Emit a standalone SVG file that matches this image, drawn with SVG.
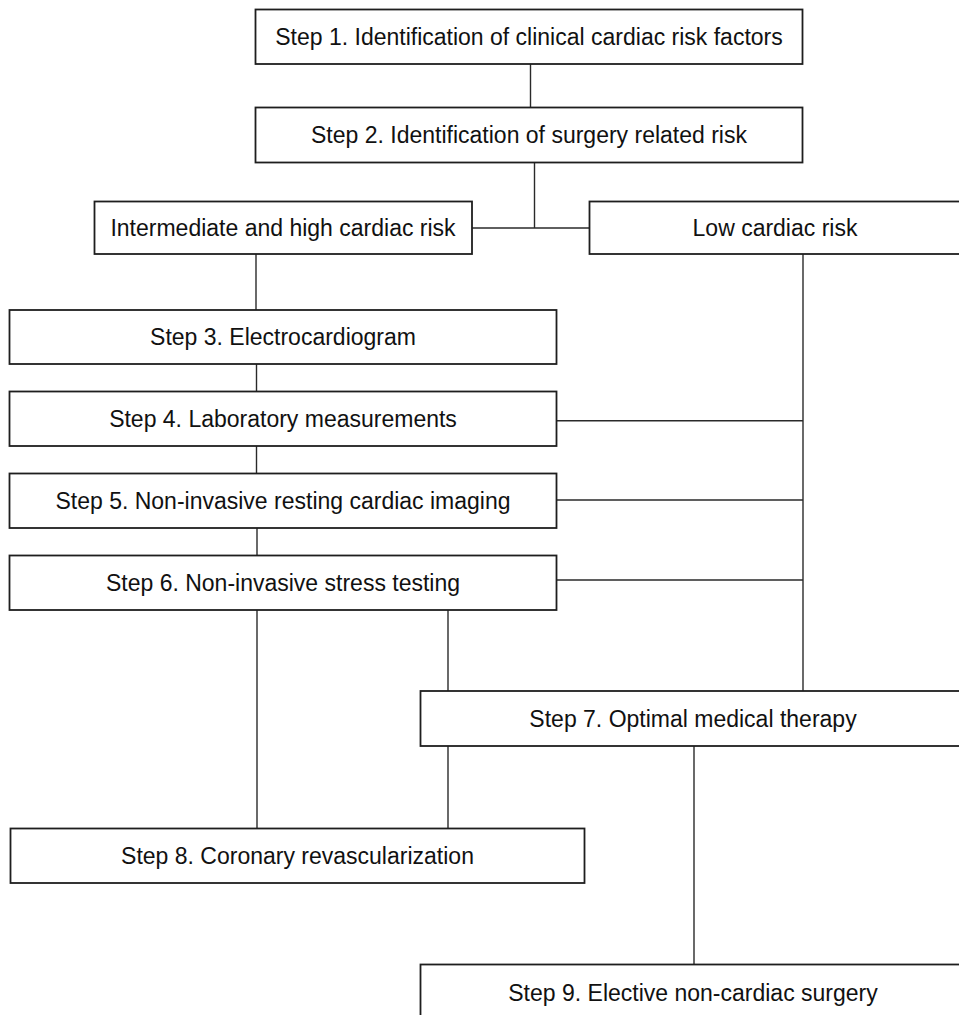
<svg xmlns="http://www.w3.org/2000/svg" width="959" height="1015" viewBox="0 0 959 1015">
<style>
.box{fill:#fff;stroke:#1e1e1e;stroke-width:1.8}
.lbl{font-family:"Liberation Sans",Arial,sans-serif;font-size:23px;fill:#111;text-anchor:middle}
.con line{stroke:#2a2a2a;stroke-width:1.4}
</style>
<rect width="959" height="1015" fill="#fff"/>
<g class="con" id="connectors">
<line x1="530.5" y1="64" x2="530.5" y2="107.5"/>
<line x1="534.5" y1="162.5" x2="534.5" y2="228"/>
<line x1="472" y1="228" x2="589.5" y2="228"/>
<line x1="256" y1="254" x2="256" y2="310"/>
<line x1="256.5" y1="364" x2="256.5" y2="391.5"/>
<line x1="256.5" y1="446" x2="256.5" y2="473.5"/>
<line x1="257" y1="528" x2="257" y2="555.5"/>
<line x1="803" y1="254" x2="803" y2="691"/>
<line x1="556.5" y1="420.7" x2="803" y2="420.7"/>
<line x1="556.5" y1="500" x2="803" y2="500"/>
<line x1="556.5" y1="580" x2="803" y2="580"/>
<line x1="257" y1="610" x2="257" y2="828.5"/>
<line x1="448" y1="610" x2="448" y2="691"/>
<line x1="448" y1="746" x2="448" y2="828.5"/>
<line x1="694" y1="746" x2="694" y2="964.5"/>
</g>
<g id="step1"><rect class="box" x="255.5" y="9.5" width="547" height="54.5"/><text class="lbl" x="529" y="45">Step 1. Identification of clinical cardiac risk factors</text></g>
<g id="step2"><rect class="box" x="255.5" y="107.5" width="547" height="55"/><text class="lbl" x="529" y="143">Step 2. Identification of surgery related risk</text></g>
<g id="intermediate"><rect class="box" x="94.5" y="201.5" width="377.5" height="52.5"/><text class="lbl" x="283" y="236">Intermediate and high cardiac risk</text></g>
<g id="low"><rect class="box" x="589.5" y="201.5" width="372" height="52.5"/><text class="lbl" x="775" y="236">Low cardiac risk</text></g>
<g id="step3"><rect class="box" x="9.5" y="310" width="547" height="54"/><text class="lbl" x="283" y="345">Step 3. Electrocardiogram</text></g>
<g id="step4"><rect class="box" x="9.5" y="391.5" width="547" height="54.5"/><text class="lbl" x="283" y="427">Step 4. Laboratory measurements</text></g>
<g id="step5"><rect class="box" x="9.5" y="473.5" width="547" height="54.5"/><text class="lbl" x="283" y="509">Step 5. Non-invasive resting cardiac imaging</text></g>
<g id="step6"><rect class="box" x="9.5" y="555.5" width="547" height="54.5"/><text class="lbl" x="283" y="591">Step 6. Non-invasive stress testing</text></g>
<g id="step7"><rect class="box" x="420.5" y="691" width="545" height="55"/><text class="lbl" x="693" y="726.5">Step 7. Optimal medical therapy</text></g>
<g id="step8"><rect class="box" x="10.5" y="828.5" width="574" height="54.5"/><text class="lbl" x="297.5" y="864">Step 8. Coronary revascularization</text></g>
<g id="step9"><rect class="box" x="420.5" y="964.5" width="545" height="60"/><text class="lbl" x="693" y="1001">Step 9. Elective non-cardiac surgery</text></g>
</svg>
